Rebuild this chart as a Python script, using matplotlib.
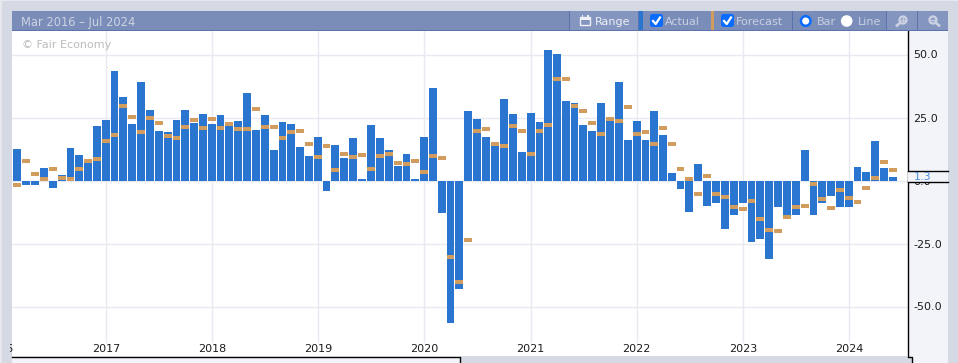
import numpy as np
import pandas as pd
import matplotlib
matplotlib.use('Agg')
import matplotlib.pyplot as plt
import matplotlib.dates as mdates
from matplotlib.patches import Rectangle, FancyBboxPatch, Circle

months = pd.date_range('2016-03-01', '2024-06-01', freq='MS')

actual = [12.5, -1.8, -1.8, 5.0, -3.0, 2.2, 12.9, 10.1, 7.5, 21.6,
          24.0, 43.5, 33.2, 22.4, 39.1, 28.0, 19.7, 19.3, 24.0, 28.0,
          22.8, 26.4, 22.4, 26.0, 21.7, 23.6, 34.8, 20.0, 26.0, 12.1,
          23.2, 22.4, 13.3, 9.7, 17.3, -4.2, 14.1, 8.9, 16.9, 0.6,
          22.0, 16.9, 12.1, 5.8, 10.5, 0.6, 17.3, 36.8, -12.9, -56.6,
          -43.1, 27.6, 24.4, 17.3, 13.7, 32.4, 26.4, 11.3, 26.8, 23.2,
          51.9, 50.3, 31.6, 30.8, 22.0, 19.7, 30.8, 23.6, 39.1, 15.9,
          23.6, 16.1, 27.6, 18.1, 3.0, -3.4, -12.5, 6.6, -10.1, -8.9,
          -19.3, -13.7, -8.9, -24.4, -23.2, -31.2, -10.5, -13.7, -13.7, 12.1,
          -13.7, -8.9, -6.2, -10.5, -10.5, 5.4, 3.4, 15.7, 5.0, 1.3]
forecast = [-1.8, 7.7, 2.6, 0.6, 4.6, 1.0, 0.6, 4.6, 7.7, 8.5,
            15.7, 18.0, 29.6, 25.2, 19.3, 24.8, 22.8, 17.7, 16.9, 21.3,
            24.0, 20.9, 24.4, 20.9, 22.4, 20.5, 20.5, 28.4, 21.3, 21.3,
            16.9, 19.3, 19.7, 14.5, 9.3, 13.7, 4.2, 10.5, 9.3, 10.1,
            4.6, 9.7, 10.5, 7.0, 6.6, 7.7, 3.4, 9.7, 8.9, -30.4,
            -40.3, -23.6, 19.7, 20.5, 14.5, 13.7, 21.7, 19.7, 10.5, 19.7,
            22.0, 40.3, 40.3, 29.6, 27.5, 22.8, 18.5, 24.4, 23.6, 29.2,
            18.5, 19.3, 14.5, 20.9, 14.5, 4.6, 0.6, -5.4, 1.8, -5.4,
            -6.6, -10.5, -11.3, -8.1, -15.3, -19.7, -20.1, -14.5, -10.5, -10.1,
            -1.4, -7.4, -10.9, -3.8, -7.0, -8.5, -3.0, 1.0, 7.3, 4.2]
years = [2016, 2017, 2018, 2019, 2020, 2021, 2022, 2023, 2024]
y_ticks = [-50, -25, 0, 25, 50]

W, H = 958, 363
PAGE = '#d5d9e3'
PANEL = '#f3f4f9'
HEAD = '#7a8cb8'
BTN = '#8495c0'
EDGE = '#5b73aa'
BLUE = '#2a75cf'
ORANGE = '#d29c5f'
GRID = '#e8e9f1'
ICON = '#c9d0e2'

fig = plt.figure(figsize=(W / 100, H / 100), dpi=100, facecolor=PAGE)

# backdrop for the right axis panel and the scrollbar strip
bg = fig.add_axes([0, 0, 1, 1], zorder=0)
bg.set_xlim(0, W)
bg.set_ylim(H, 0)
bg.axis('off')
bg.add_patch(Rectangle((908, 31), 40, 332, fc=PANEL, ec='none'))
bg.add_patch(Rectangle((12, 356), 448, 7, fc=PANEL, ec='none'))

# main plot, placed by pixel box
left, right, top, bottom = 12, 908, 31, 356
ax = fig.add_axes([left / W, 1 - bottom / H, (right - left) / W, (bottom - top) / H], zorder=2)

px_per_day = 0.29069
jan17 = mdates.date2num(pd.Timestamp('2017-01-01'))
x_start = jan17 - (105.9 - left) / px_per_day
ax.set_xlim(x_start, jan17 + (right - 105.9) / px_per_day)
px_per_unit = 2.52
ax.set_ylim((180.5 - bottom) / px_per_unit, (180.5 - top) / px_per_unit)

for y in y_ticks:
    ax.axhline(y, color=GRID, lw=1, zorder=1)

# page chrome in pixel coordinates
ui = fig.add_axes([0, 0, 1, 1], zorder=5)
ui.set_xlim(0, W)
ui.set_ylim(H, 0)
ui.axis('off')
ui.patch.set_alpha(0)

for yr in years:
    d = mdates.date2num(pd.Timestamp(yr, 1, 1))
    ax.axvline(d, ymin=14 / 325, color=GRID, lw=1, zorder=1)
    t = ax.text(d, 7 / 325, str(yr), transform=ax.get_xaxis_transform(), ha='center', va='center',
                fontsize=8, color='#1c1c1c', clip_on=True)
    # the first label only peeks in at the left edge
    if yr == years[0]:
        t.set_clip_path(Rectangle((10, 0), 100, H, transform=ui.transData))

# bars sit on whole pixels with a one pixel gap, like the time scale in the original
x = mdates.date2num(months)
edge_px = np.round(left + (x - x_start) * px_per_day - 3.9)
bar_px = np.minimum(8, np.diff(edge_px, append=edge_px[-1] + 9) - 1)
bar_x = x_start + (edge_px - left) / px_per_day
bar_w = bar_px / px_per_day

ax.bar(bar_x, actual, width=bar_w, align='edge', color=BLUE, zorder=2)
fc_h = 4.4 / px_per_unit
ax.bar(bar_x, [fc_h] * len(forecast), bottom=np.array(forecast) - fc_h / 2, width=bar_w, align='edge',
       color=ORANGE, zorder=3)

ax.set_xticks([])
ax.set_yticks(y_ticks)
ax.set_yticklabels(['%.1f' % v for v in y_ticks], fontsize=8, color='#1c1c1c')
ax.yaxis.tick_right()
ax.tick_params(axis='y', length=0, pad=3.6)
for s in ['left', 'top', 'bottom']:
    ax.spines[s].set_visible(False)
ax.spines['right'].set_color('black')
ax.spines['right'].set_linewidth(1)

def rect(x0, y0, x1, y1, color, z=1):
    ui.add_patch(Rectangle((x0, y0), x1 - x0, y1 - y0, fc=color, ec='none', zorder=z))

def label(x0, text, color=ICON, size=8):
    ui.text(x0, 21, text, color=color, fontsize=size, va='center_baseline', ha='left', zorder=4)

def checkbox(x0):
    ui.add_patch(FancyBboxPatch((x0 + 2, 16), 9, 9, boxstyle='round,pad=2,rounding_size=2.5',
                                fc='#0a6cff', ec='none', zorder=3))
    ui.plot([x0 + 3, x0 + 5.7, x0 + 10], [21, 24, 17.5], color='white', lw=1.6, zorder=4)

def magnifier(cx, handle_dir):
    ui.add_patch(Circle((cx, 20), 3.5, fc='none', ec=ICON, lw=1.7, zorder=3))
    ui.plot([cx + handle_dir * 2.6, cx + handle_dir * 6], [22.6, 25.5], color=ICON, lw=2, zorder=3)
    ui.plot([cx - 1.8, cx + 1.8], [20, 20], color=ICON, lw=1, zorder=4)

rect(0, 0, 958, 1, '#e6e8ee')
rect(0, 0, 2, 363, '#e6e8ee')

# header bar
rect(12, 11, 948, 30, HEAD)
rect(12, 30, 948, 31, EDGE)
rect(570, 11, 639, 30, BTN)
rect(887, 11, 917, 30, BTN)
rect(918, 11, 948, 30, BTN)
for xd in [570, 639, 793, 886.5, 917.5]:
    rect(xd - 0.5, 11, xd + 0.5, 30, EDGE, 2)
rect(639.5, 11, 643, 30, BLUE, 2)
rect(711, 11, 714.5, 30, ORANGE, 2)

ui.text(21, 21, 'Mar 2016 \u2013 Jul 2024', color='#cdd3e4', fontsize=8.3, va='center_baseline', ha='left')
ui.text(22, 44, '\u00a9 Fair Economy', color='#bcbcbc', fontsize=8, va='center_baseline', ha='left')

# range button icon
ui.add_patch(Rectangle((580.5, 17), 10, 7.5, fc='none', ec='#eef0f6', lw=1, zorder=3))
rect(580.5, 17, 590.5, 19.5, '#eef0f6', 3)
rect(582, 15, 583.5, 17, '#eef0f6', 3)
rect(587.5, 15, 589, 17, '#eef0f6', 3)
label(595, 'Range', '#eef0f6')

checkbox(650)
label(665, 'Actual')
checkbox(721)
label(736, 'Forecast')

ui.add_patch(Circle((805.7, 21), 4.8, fc='white', ec='#0a6cff', lw=1.8, zorder=3))
label(817, 'Bar')
ui.add_patch(Circle((846.7, 21), 5.8, fc='white', ec='none', zorder=3))
label(858, 'Line')

magnifier(903, -1)
ui.plot([903, 903], [18.2, 21.8], color=ICON, lw=1, zorder=4)
magnifier(933, 1)

# bottom edge: scrollbar strip on the left, grey track after it
ui.plot([12, 460, 460], [356.5, 356.5, 363], color='black', lw=1, zorder=3)
rect(460.5, 356, 908, 363, PAGE, 2)
rect(908, 357, 912, 363, PAGE, 2)
ui.plot([908, 912.5, 912.5], [356.5, 356.5, 363], color='black', lw=1, zorder=3)

# latest value flag
ui.add_patch(Rectangle((908, 170.5), 40, 11, fc=PANEL, ec='none', zorder=2))
ui.plot([908, 948], [170.5, 170.5], color='black', lw=1, zorder=3)
ui.plot([908, 948], [181.5, 181.5], color='black', lw=1, zorder=3)
ui.text(913.5, 176, '%.1f' % actual[-1], color='#4a8cdc', fontsize=8, va='center_baseline', ha='left', zorder=4)

fig.savefig('out.png', dpi=100, facecolor=PAGE)
